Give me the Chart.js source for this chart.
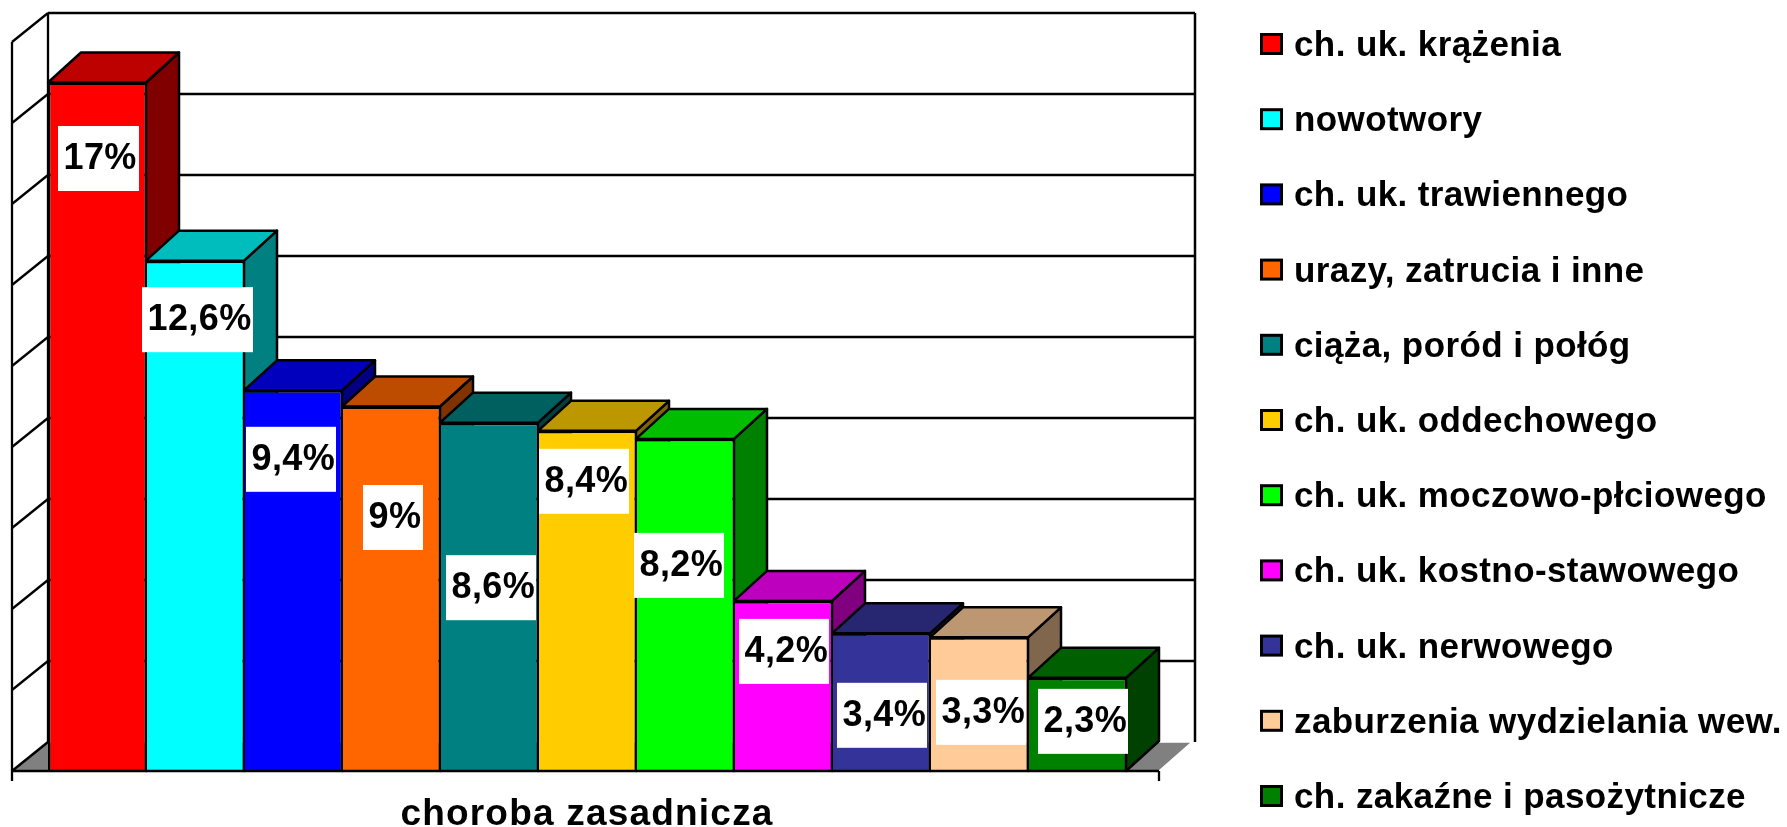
<!DOCTYPE html>
<html>
<head>
<meta charset="utf-8">
<style>
html, body { margin: 0; padding: 0; background: #fff; }
#chart { display: block; }
</style>
<script src="https://cdn.jsdelivr.net/npm/chart.js@4"></script>
</head>
<body>
<div style="width:1787px;height:827px"><canvas id="chart"></canvas></div>
<script>
const axisTitle = 'choroba zasadnicza';
const names = [
    'ch. uk. krążenia', 'nowotwory', 'ch. uk. trawiennego', 'urazy, zatrucia i inne',
    'ciąża, poród i połóg', 'ch. uk. oddechowego', 'ch. uk. moczowo-płciowego',
    'ch. uk. kostno-stawowego', 'ch. uk. nerwowego', 'zaburzenia wydzielania wew.',
    'ch. zakaźne i pasożytnicze'
];
const values = [17, 12.6, 9.4, 9, 8.6, 8.4, 8.2, 4.2, 3.4, 3.3, 2.3];
const valueLabels = ['17%', '12,6%', '9,4%', '9%', '8,6%', '8,4%', '8,2%', '4,2%', '3,4%', '3,3%', '2,3%'];
const colors = [
    [255, 0, 0], [0, 255, 255], [0, 0, 255], [255, 102, 0], [0, 128, 128], [255, 204, 0],
    [0, 255, 0], [255, 0, 255], [51, 51, 153], [255, 204, 153], [0, 128, 0]
];

// label boxes were dragged by hand in the original: px from the bar's left edge / top edge
const labelDx = [10, -4, 2, 21, 6, 1, -2, 5, 5, 6, 10];
const labelDy = [43.5, 26.5, 36.5, 78.5, 132.5, 18, 94, 18, 49.5, 42.5, 11];
const labelBoxW = [81, 111, 90, 60, 90, 90, 90, 90, 90, 90, 90];
const labelBoxH = 65;

const depthX = 33, depthY = 30;   // bars
const wallX = 36, wallY = 29;     // walls and floor
const fontName = '"Liberation Sans", Arial, sans-serif';

function rgb(c, k) {
    return 'rgb(' + c.map(v => Math.round(v * k)).join(',') + ')';
}

function poly(ctx, pts, fill, stroke, width) {
    ctx.beginPath();
    pts.forEach((p, i) => i ? ctx.lineTo(p[0], p[1]) : ctx.moveTo(p[0], p[1]));
    ctx.closePath();
    if (fill) { ctx.fillStyle = fill; ctx.fill(); }
    if (stroke) { ctx.strokeStyle = stroke; ctx.lineWidth = width; ctx.lineJoin = 'round'; ctx.stroke(); }
}

function line(ctx, x1, y1, x2, y2, width) {
    ctx.beginPath();
    ctx.moveTo(x1, y1);
    ctx.lineTo(x2, y2);
    ctx.strokeStyle = '#000';
    ctx.lineWidth = width;
    ctx.stroke();
}

const box3d = {
    id: 'box3d',
    beforeDraw(chart) {
        // the axis title is stretched in the original
        chart.ctx.letterSpacing = '1.2px';
    },
    beforeDatasetsDraw(chart) {
        const { ctx, chartArea, scales } = chart;
        const left = chartArea.left - 3, right = chartArea.right, bottom = chartArea.bottom;
        const y = scales.y;
        ctx.letterSpacing = '0px';

        ctx.save();
        // floor
        poly(ctx, [[left, bottom], [left + wallX, bottom - wallY], [right + wallX - 3, bottom - wallY], [right, bottom]],
            '#808080', '#fff', 1.5);
        line(ctx, left, bottom, left + wallX, bottom - wallY, 2.5);

        // walls + grid lines from the y scale
        for (let v = 2; v <= 18; v += 2) {
            const py = y.getPixelForValue(v);
            line(ctx, left, py, left + wallX, py - wallY, 2.3);
            line(ctx, left + wallX, py - wallY, right + wallX, py - wallY, 2.3);
        }
        line(ctx, left + wallX, y.getPixelForValue(18) - wallY, left + wallX, bottom - wallY, 2.3);
        line(ctx, right + wallX, y.getPixelForValue(18) - wallY, right + wallX, bottom - wallY, 2.5);
        line(ctx, left, y.getPixelForValue(18), left, bottom + 10, 2.3);
        line(ctx, right, bottom, right, bottom + 10, 2.3);

        // tops and right sides, the library draws the fronts afterwards
        chart.data.datasets.forEach((ds, i) => {
            const bar = chart.getDatasetMeta(i).data[0];
            const x1 = bar.x - bar.width / 2, x2 = bar.x + bar.width / 2, top = bar.y;
            poly(ctx, [[x2, top], [x2 + depthX, top - depthY], [x2 + depthX, bottom - depthY], [x2, bottom]],
                rgb(colors[i], 0.5), '#000', 2.5);
            poly(ctx, [[x1, top], [x1 + depthX, top - depthY], [x2 + depthX, top - depthY], [x2, top]],
                rgb(colors[i], 0.74), '#000', 2.5);
        });
        ctx.restore();
    },
    afterDatasetsDraw(chart) {
        const { ctx, chartArea } = chart;
        ctx.save();
        line(ctx, chartArea.left - 3, chartArea.bottom, chartArea.right, chartArea.bottom, 2.7);

        // value labels on white boxes
        ctx.font = 'bold 36px ' + fontName;
        ctx.textAlign = 'left';
        ctx.textBaseline = 'alphabetic';
        ctx.letterSpacing = '0.4px';
        chart.data.datasets.forEach((ds, i) => {
            const bar = chart.getDatasetMeta(i).data[0];
            const bx = bar.x - bar.width / 2 + labelDx[i], by = bar.y + labelDy[i];
            ctx.fillStyle = '#fff';
            ctx.fillRect(bx, by, labelBoxW[i], labelBoxH);
            ctx.fillStyle = '#000';
            ctx.fillText(valueLabels[i], bx + 5.5, by + 43);
        });

        // legend
        ctx.font = 'bold 35px ' + fontName;
        ctx.letterSpacing = '0.4px';
        chart.data.datasets.forEach((ds, i) => {
            const rowY = 44 + i * 75.2;
            ctx.fillStyle = rgb(colors[i], 1);
            ctx.fillRect(1261.5, rowY - 9.5, 20, 19);
            ctx.strokeStyle = '#000';
            ctx.lineWidth = 3;
            ctx.strokeRect(1261.5, rowY - 9.5, 20, 19);
            ctx.fillStyle = '#000';
            ctx.fillText(ds.label, 1294, rowY + 12);
        });
        ctx.restore();
    }
};

let chart = new Chart(document.getElementById('chart').getContext('2d'), {
    type: 'bar',
    data: {
        labels: [axisTitle],
        datasets: names.map((name, i) => ({
            label: name,
            data: [values[i]],
            backgroundColor: rgb(colors[i], 1),
            borderColor: '#000',
            borderWidth: { top: 2.5, right: 1.5, bottom: 0, left: i === 0 ? 2.5 : 1 },
            borderSkipped: false,
            categoryPercentage: 0.9423,
            barPercentage: 1
        }))
    },
    options: {
        responsive: true,
        maintainAspectRatio: false,
        animation: false,
        layout: { padding: { left: 15, right: 628, top: 42, bottom: 0 } },
        plugins: {
            legend: { display: false },
            tooltip: { enabled: false }
        },
        scales: {
            y: { display: false, min: 0, max: 18 },
            x: {
                afterFit(scale) { scale.height = 56; },
                grid: { display: false },
                border: { display: false },
                ticks: { display: false },
                title: {
                    display: true,
                    text: axisTitle,
                    color: '#000',
                    font: { family: fontName, size: 37, weight: 'bold', lineHeight: 1 },
                    padding: { top: 25, bottom: -6 }
                }
            }
        }
    },
    plugins: [box3d]
});
</script>
</body>
</html>
